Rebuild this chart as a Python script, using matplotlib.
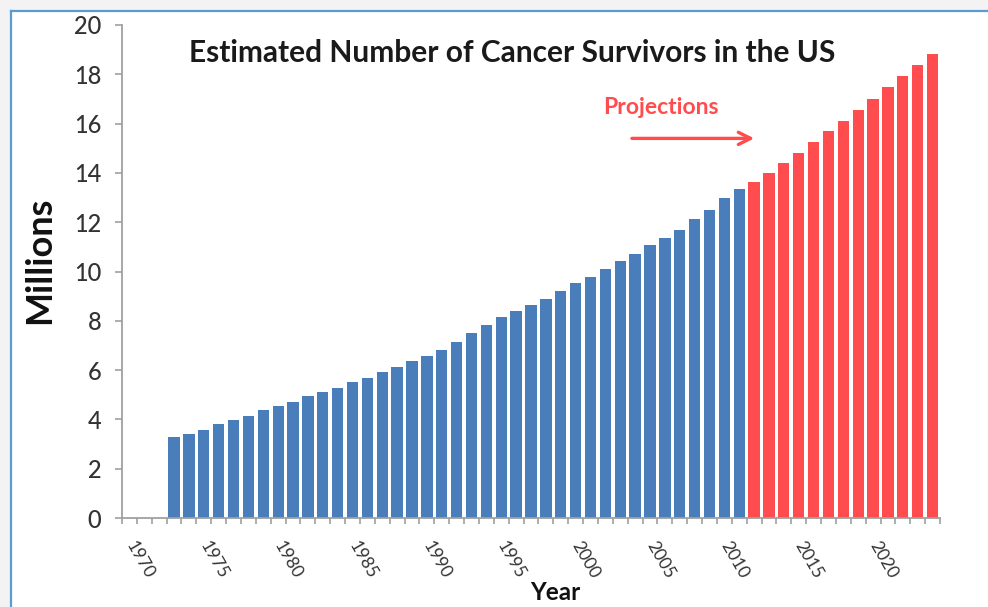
import matplotlib
matplotlib.use("Agg")
import matplotlib.pyplot as plt
from matplotlib.lines import Line2D
from matplotlib.patches import Rectangle
from matplotlib.transforms import ScaledTranslation

plt.rcParams['font.family'] = ['Lato', 'DejaVu Sans']

# ---- data ----
years = list(range(1973, 2025))
survivors = [3.30, 3.41, 3.58, 3.80, 3.98, 4.14, 4.38, 4.54, 4.72, 4.95,
             5.11, 5.27, 5.50, 5.66, 5.91, 6.14, 6.36, 6.59, 6.80, 7.15,
             7.49, 7.83, 8.17, 8.40, 8.63, 8.90, 9.20, 9.53, 9.76, 10.09,
             10.44, 10.72, 11.06, 11.36, 11.68, 12.14, 12.48, 12.99, 13.33,
             13.62, 14.01, 14.41, 14.81, 15.25, 15.70, 16.11, 16.55, 17.01,
             17.47, 17.92, 18.36, 18.82]
projection_start = 2012
label_years = list(range(1970, 2021, 5))
y_ticks = list(range(0, 21, 2))

BLUE = '#4A7EBB'
RED = '#FF4D4F'
W, H = 988, 607

fig = plt.figure(figsize=(W / 100, H / 100), dpi=100, facecolor='white')

# outer frame (light strip + blue border line)
fig.add_artist(Rectangle((0, 1 - 10 / H), 1, 10 / H, transform=fig.transFigure,
                         facecolor='#f3f3f3', edgecolor='none'))
fig.add_artist(Rectangle((0, 0), 10 / W, 1, transform=fig.transFigure,
                         facecolor='#f3f3f3', edgecolor='none'))
fig.add_artist(Line2D([11 / W, 1], [1 - 11 / H, 1 - 11 / H], transform=fig.transFigure,
                      color='#5B9BD5', lw=1.6))
fig.add_artist(Line2D([11 / W, 11 / W], [0, 1 - 11 / H], transform=fig.transFigure,
                      color='#5B9BD5', lw=1.6))

x0, x1, yb, yt = 122, 940, 518, 25
ax = fig.add_axes([x0 / W, 1 - yb / H, (x1 - x0) / W, (yb - yt) / H])

colors = [BLUE if y < projection_start else RED for y in years]
ax.bar(years, survivors, width=0.76, color=colors, edgecolor='none', zorder=2)

ax.set_xlim(1969.5, 2024.5)
ax.set_ylim(0, 20)

for s in ['top', 'right']:
    ax.spines[s].set_visible(False)
for s in ['left', 'bottom']:
    ax.spines[s].set_color('#a0a0a0')
    ax.spines[s].set_linewidth(1.3)

ax.set_yticks(y_ticks)
ax.set_yticklabels([str(v) for v in y_ticks])
ax.tick_params(axis='y', direction='out', length=5, width=1.2, color='#a0a0a0',
               pad=10, labelsize=17, labelcolor='#333333')
for lab in ax.get_yticklabels():
    lab.set_fontweight('medium')

ax.set_xticks([y - 0.5 for y in range(1970, 2026)])
ax.set_xticklabels([])
ax.tick_params(axis='x', which='major', direction='out', length=4.5, width=1.2,
               color='#a0a0a0')
ax.set_xticks(label_years, minor=True)
ax.set_xticklabels([str(y) for y in label_years], minor=True)
ax.tick_params(axis='x', which='minor', length=0, pad=15, labelsize=12.5,
               labelcolor='#333333')
shift = ScaledTranslation(7 / 100, 0, fig.dpi_scale_trans)
for lab in ax.get_xticklabels(minor=True):
    lab.set_rotation(-60)
    lab.set_rotation_mode('anchor')
    lab.set_ha('left')
    lab.set_va('top')
    lab.set_transform(lab.get_transform() + shift)

fig.text(512 / W, 1 - 53 / H, 'Estimated Number of Cancer Survivors in the US',
         ha='center', va='center', fontsize=21.5, fontweight='bold', color='#1a1a1a')
fig.text(40 / W, 1 - 260 / H, 'Millions', rotation=90, ha='center', va='center',
         fontsize=26, fontweight='bold', color='#111111')
fig.text(555 / W, 1 - 593 / H, 'Year', ha='center', va='center',
         fontsize=17.5, fontweight='bold', color='#111111')

ax.text(2005.75, 16.67, 'Projections', ha='center', va='center', fontsize=16.5,
        fontweight='bold', color=RED)
ax.annotate('', xy=(2012.2, 15.4), xytext=(2003.6, 15.4),
            arrowprops=dict(arrowstyle='->', color=RED, lw=2.4, mutation_scale=22))

fig.savefig('out.png', dpi=100, facecolor=fig.get_facecolor())
